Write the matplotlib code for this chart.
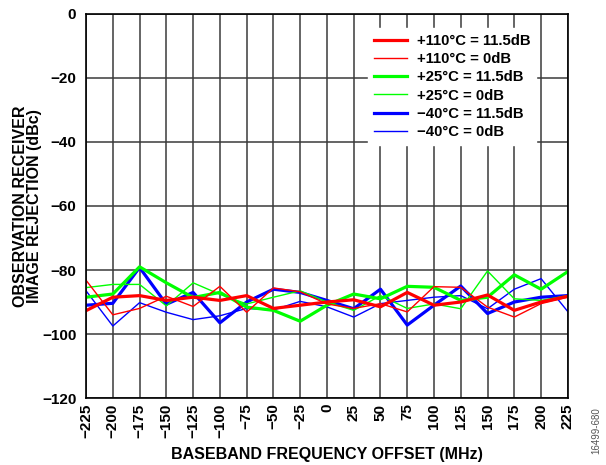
import numpy as np
import matplotlib
matplotlib.use('Agg')
import matplotlib.pyplot as plt

plt.rcParams['font.family'] = ['Liberation Sans', 'DejaVu Sans']
plt.rcParams['font.weight'] = 'bold'

freq = [-225, -200, -175, -150, -125, -100, -75, -50, -25, 0,
        25, 50, 75, 100, 125, 150, 175, 200, 225]

# image rejection (dBc)
red_hi = [-92.7, -88.5, -88.0, -89.5, -88.5, -89.5, -88.0, -92.0, -91.0, -90.0,
          -89.3, -91.5, -87.0, -91.0, -90.0, -87.8, -92.6, -90.0, -88.2]
red_lo = [-83.2, -94.0, -92.0, -88.2, -91.4, -85.1, -93.2, -85.6, -86.8, -90.6,
          -92.0, -90.5, -93.1, -85.2, -85.4, -91.6, -94.7, -90.5, -88.5]
grn_hi = [-88.5, -87.5, -79.0, -84.0, -88.6, -87.0, -91.6, -92.6, -96.0, -91.0,
          -87.5, -89.0, -85.1, -85.4, -89.5, -88.5, -81.5, -86.0, -80.5]
grn_lo = [-85.5, -84.5, -84.5, -91.2, -84.0, -87.6, -90.6, -88.5, -86.5, -90.0,
          -92.6, -88.0, -92.0, -90.6, -92.1, -80.3, -89.0, -89.5, -88.0]
blu_hi = [-91.0, -90.4, -79.2, -90.7, -87.0, -96.5, -90.0, -86.0, -87.0, -89.5,
          -92.1, -86.0, -97.2, -91.0, -85.0, -93.6, -90.0, -88.5, -88.0]
blu_lo = [-86.5, -97.5, -90.2, -93.2, -95.5, -94.3, -92.0, -92.5, -89.8, -91.5,
          -94.7, -90.5, -89.5, -88.5, -88.0, -92.1, -86.0, -82.7, -93.0]

series = [
    ('+110°C = 11.5dB', red_hi, '#ff0000', 2.3),
    ('+110°C = 0dB', red_lo, '#ff0000', 1.0),
    ('+25°C = 11.5dB', grn_hi, '#00ff00', 2.3),
    ('+25°C = 0dB', grn_lo, '#00ff00', 1.0),
    ('\u221240°C = 11.5dB', blu_hi, '#0000ff', 2.3),
    ('\u221240°C = 0dB', blu_lo, '#0000ff', 1.0),
]

fig = plt.figure(figsize=(6.06, 4.65), dpi=100)
ax = fig.add_axes([0.142, 0.144, 0.795, 0.826])

n = len(series)
for i, (lab, vals, col, lw) in enumerate(series):
    ax.plot(freq, vals, color=col, linewidth=lw, label=lab, zorder=10 + n - i)

ax.set_xlim(-225, 225)
ax.set_ylim(-120, 0)
ax.set_xticks(freq)
ax.set_xticklabels([str(f).replace('-', '\u2212') for f in freq], rotation=90)
ax.set_yticks(np.arange(-120, 1, 20))
ax.set_yticklabels([str(v).replace('-', '\u2212') for v in range(-120, 1, 20)])
ax.tick_params(length=0, labelsize=11)
ax.tick_params(axis='y', pad=7)
ax.tick_params(axis='x', pad=4)
for t in ax.get_xticklabels() + ax.get_yticklabels():
    t.set_fontweight('bold')

ax.grid(True, color='#3a3a3a', linewidth=1.1)
for s in ax.spines.values():
    s.set_linewidth(1.2)
    s.set_zorder(30)

ax.set_xlabel('BASEBAND FREQUENCY OFFSET (MHz)', fontsize=11.5, fontweight='bold', labelpad=6.5)
ax.set_ylabel('OBSERVATION RECEIVER\nIMAGE REJECTION (dBc)', fontsize=11.5,
              fontweight='bold', labelpad=0, linespacing=0.92)

leg = ax.legend(loc='upper right', bbox_to_anchor=(0.934, 0.964), frameon=True,
                fontsize=10.7, handlelength=2.2, handletextpad=0.67,
                labelspacing=0.29, borderpad=0.4, borderaxespad=0.0)
leg.get_frame().set_facecolor('white')
leg.get_frame().set_edgecolor('white')
leg.get_frame().set_alpha(1.0)
leg.set_zorder(40)
for t in leg.get_texts():
    t.set_fontweight('bold')

fig.text(0.984, 0.073, '16499-680', rotation=90, fontsize=7, color='#555555',
         ha='center', va='center', fontweight='normal')

fig.savefig('out.png', dpi=100)
